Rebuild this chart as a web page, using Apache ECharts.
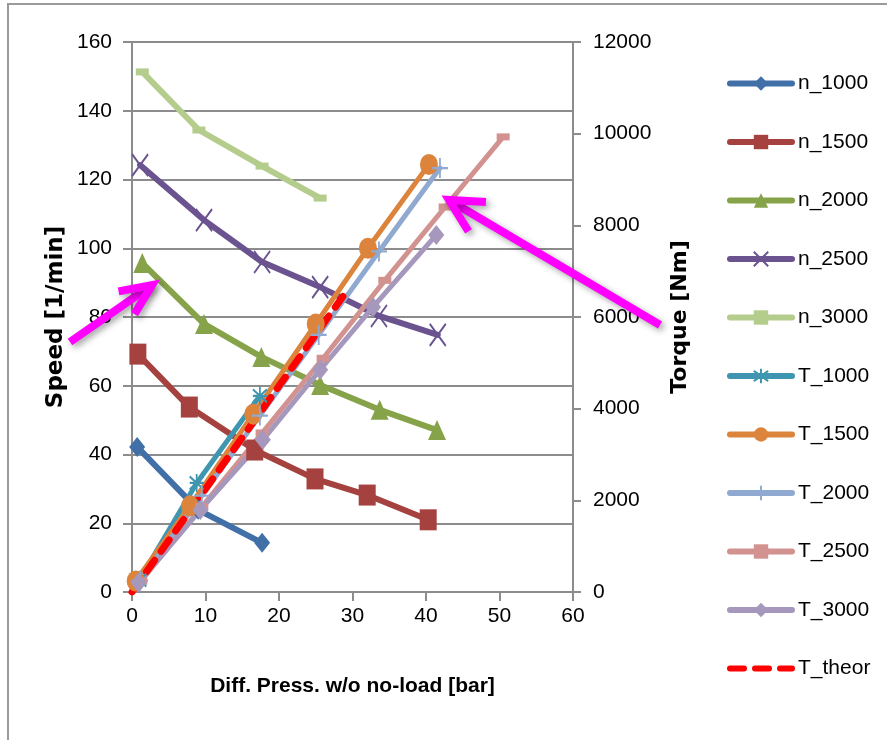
<!DOCTYPE html>
<html>
<head>
<meta charset="utf-8">
<script src="https://cdn.jsdelivr.net/npm/echarts@6/dist/echarts.min.js"></script>
<style>
html, body { margin: 0; padding: 0; background: #fff; }
#main { width: 887px; height: 740px; }
</style>
</head>
<body>
<div id="main"></div>
<script>
// speed curves [diff. press bar, speed 1/min]
var n1000 = [[0.7, 42.2], [9.0, 23.9], [17.7, 14.3]];
var n1500 = [[0.8, 69.2], [7.8, 53.8], [16.7, 41.3], [24.9, 32.9], [32.0, 28.2], [40.3, 21.0]];
var n2000 = [[1.4, 95.7], [9.8, 78.0], [17.6, 68.4], [25.6, 60.2], [33.7, 53.0], [41.5, 47.1]];
var n2500 = [[1.1, 124.2], [9.8, 108.2], [17.7, 96.0], [25.6, 88.7], [33.6, 80.3], [41.6, 74.8]];
var n3000 = [[1.4, 151.3], [9.1, 134.4], [17.7, 123.9], [25.6, 114.6]];

// torque curves [diff. press bar, torque Nm]
var t1000 = [[1.0, 260], [8.8, 2380], [17.4, 4280]];
var t1500 = [[0.5, 240], [7.9, 1880], [16.5, 3880], [25.0, 5850], [32.1, 7500], [40.4, 9330]];
var t2000 = [[1.1, 250], [9.5, 2100], [17.4, 3850], [25.4, 5610], [33.6, 7430], [41.9, 9250]];
var t2500 = [[1.2, 235], [9.5, 1860], [17.7, 3470], [26.0, 5100], [34.4, 6800], [42.6, 8400], [50.5, 9930]];
var t3000 = [[0.9, 200], [9.3, 1790], [17.8, 3320], [25.6, 4850], [32.8, 6220], [41.4, 7790]];
var tTheor = [[0, 0], [28.7, 6450]];

var seriesNames = ['n_1000', 'n_1500', 'n_2000', 'n_2500', 'n_3000',
    'T_1000', 'T_1500', 'T_2000', 'T_2500', 'T_3000', 'T_theor'];

var symX = 'path://M0,0L10,14M10,0L0,14';
var symPlus = 'path://M5,0L5,14M0,7L10,7';
var symStar = 'path://M5,0L5,14M0,7L10,7M0,2L10,12M10,2L0,12';

var myChart = echarts.init(document.getElementById('main'));

function mkLine(name, data, color, axis, sym, size, width, stroke) {
    var s = {
        name: name,
        type: 'line',
        yAxisIndex: axis,
        data: data,
        symbol: sym,
        symbolSize: size,
        lineStyle: { color: color, width: width, cap: 'round', join: 'round' },
        itemStyle: { color: color, borderColor: color, borderWidth: stroke ? 2 : 0 }
    };
    return s;
}

// magenta hint arrows
function arrow(tail, tip, len, ang) {
    var base = Math.atan2(tail[1] - tip[1], tail[0] - tip[0]);
    var p1 = [tip[0] + len * Math.cos(base + ang), tip[1] + len * Math.sin(base + ang)];
    var p2 = [tip[0] + len * Math.cos(base - ang), tip[1] + len * Math.sin(base - ang)];
    var st = {
        fill: null, stroke: '#ff00ff', lineWidth: 8, lineJoin: 'miter',
        shadowBlur: 6, shadowColor: 'rgba(0,0,0,0.35)', shadowOffsetX: 3, shadowOffsetY: 3
    };
    return [
        { type: 'polyline', z: 100, shape: { points: [tail, tip] }, style: st },
        { type: 'polyline', z: 100, shape: { points: [p1, tip, p2] }, style: st }
    ];
}

var fam = 'Liberation Sans, Arial, sans-serif';
var tickFont = { color: '#000', fontSize: 21, fontFamily: fam };
var gray = '#8c8c8c';

var legendData = seriesNames.map(function (n) {
    // T_theor has no marker, hide the legend dot
    return n === 'T_theor' ? { name: n, itemStyle: { opacity: 0 } } : n;
});

var option = {
    animation: false,
    backgroundColor: '#fff',
    grid: { left: 132, right: 314, top: 42, bottom: 148 },
    legend: {
        orient: 'vertical',
        left: 722,
        top: 68,
        itemWidth: 62,
        itemHeight: 18,
        itemGap: 37.5,
        data: legendData,
        lineStyle: { width: 6 },
        textStyle: { color: '#000', fontSize: 21, padding: [0, 0, 0, 1], fontFamily: fam }
    },
    xAxis: {
        type: 'value',
        min: 0, max: 60, interval: 10,
        name: 'Diff. Press. w/o no-load [bar]',
        nameLocation: 'middle',
        nameGap: 84,
        nameTextStyle: { color: '#000', fontSize: 21, fontWeight: 'bold', fontFamily: fam },
        axisLine: { lineStyle: { color: gray, width: 2 } },
        axisTick: { show: true, length: 9, lineStyle: { color: gray, width: 2 } },
        axisLabel: Object.assign({ margin: 14 }, tickFont),
        splitLine: { show: false }
    },
    yAxis: [{
        type: 'value',
        min: 0, max: 160, interval: 20,
        name: 'Speed [1/min]',
        nameLocation: 'middle',
        nameGap: 64,
        nameRotate: 90,
        nameTextStyle: { color: '#000', fontSize: 23, fontWeight: 'bold', fontFamily: 'DejaVu Sans' },
        axisLine: { show: true, lineStyle: { color: gray, width: 2 } },
        axisTick: { show: true, length: 9, lineStyle: { color: gray, width: 2 } },
        axisLabel: Object.assign({ margin: 20 }, tickFont),
        splitLine: { show: true, lineStyle: { color: gray, width: 2 } }
    }, {
        type: 'value',
        min: 0, max: 12000, interval: 2000,
        position: 'right',
        name: 'Torque [Nm]',
        nameLocation: 'middle',
        nameGap: 96,
        nameRotate: 90,
        nameTextStyle: { color: '#000', fontSize: 22, fontWeight: 'bold', fontFamily: 'DejaVu Sans' },
        axisLine: { show: true, lineStyle: { color: gray, width: 2 } },
        axisTick: { show: true, length: 8, lineStyle: { color: gray, width: 2 } },
        axisLabel: Object.assign({ margin: 20, formatter: function (v) { return String(v); } }, tickFont),
        splitLine: { show: false }
    }],
    graphic: [
        { type: 'rect', z: -1, shape: { x: 8, y: 4, width: 900, height: 800 },
          style: { fill: null, stroke: '#9a9a9a', lineWidth: 2 } }
    ].concat(arrow([70, 342], [152, 285], 34, 0.42))
     .concat(arrow([660, 325], [449, 200], 37, 0.48)),
    series: [
        mkLine('n_1000', n1000, '#4170a8', 0, 'diamond', [16, 20], 6),
        mkLine('n_1500', n1500, '#a5423f', 0, 'rect', [17, 21], 6),
        mkLine('n_2000', n2000, '#86a34a', 0, 'triangle', [18, 20], 6),
        mkLine('n_2500', n2500, '#6b5390', 0, symX, [16, 22], 6, true),
        mkLine('n_3000', n3000, '#b4cc8c', 0, 'rect', [13, 7], 6),
        mkLine('T_1000', t1000, '#3f96b0', 1, symStar, [14, 18], 5, true),
        mkLine('T_1500', t1500, '#dc843c', 1, 'circle', [18, 21], 5),
        mkLine('T_2000', t2000, '#90a9d0', 1, symPlus, [16, 20], 5, true),
        mkLine('T_2500', t2500, '#d29290', 1, 'rect', [13, 7], 5),
        mkLine('T_3000', t3000, '#a697bd', 1, 'diamond', [16, 20], 5),
        {
            name: 'T_theor',
            type: 'line',
            yAxisIndex: 1,
            data: tTheor,
            symbol: 'none',
            lineStyle: { color: '#ff0000', width: 7, type: [14, 11], cap: 'round' },
            itemStyle: { color: '#ff0000' }
        }
    ]
};

myChart.setOption(option);
</script>
</body>
</html>
